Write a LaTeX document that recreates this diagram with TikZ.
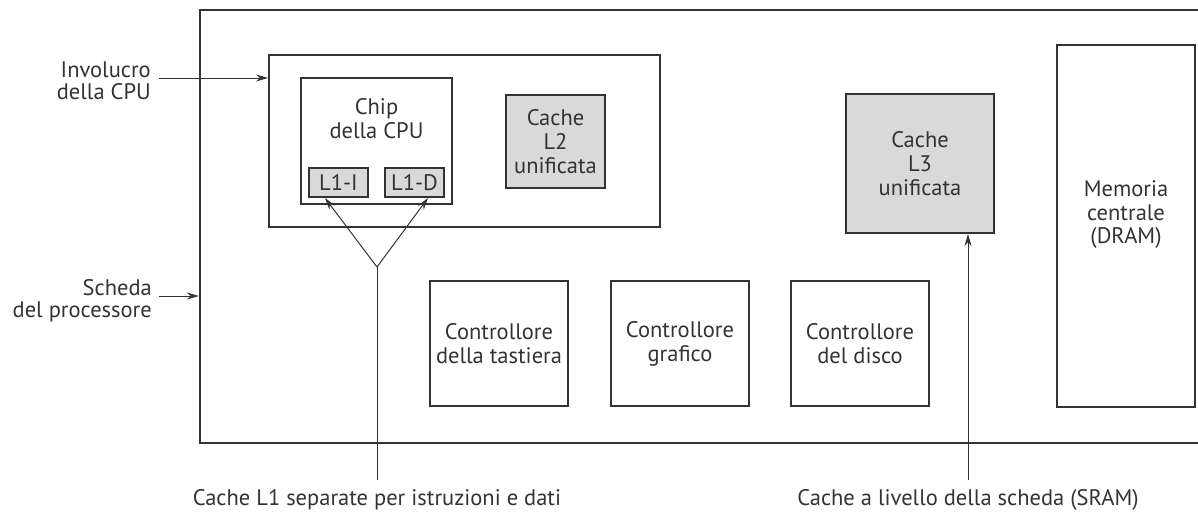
\documentclass[tikz,border=0pt]{standalone}
\usepackage{fontspec}
\setmainfont{PT Sans}
\usetikzlibrary{arrows.meta}
\definecolor{ink}{HTML}{333333}
\definecolor{cachegray}{HTML}{D9D9D9}
\begin{document}
\begin{tikzpicture}[x=1pt,y=-1pt,
  box/.style={draw=ink, line width=2pt, inner sep=0pt, align=center, text=ink,
              font=\fontsize{22.5}{23.8}\selectfont},
  cachebox/.style={box, fill=cachegray},
  lbl/.style={text=ink, inner sep=0pt, font=\fontsize{22.5}{22.5}\selectfont},
  pointer/.style={draw=ink, line width=1pt, -{Stealth[length=12pt,width=7pt]}},
  wire/.style={draw=ink, line width=1pt},
]
\useasboundingbox (0,0) rectangle (1198,512);

% processor board (runs off the right edge)
\node[box, line width=2.4pt, minimum width=1015pt, minimum height=433pt] (board) at (707.5,226.5) {};

% CPU package with chip and caches
\node[box, minimum width=391pt, minimum height=172pt] (pkg) at (464.5,141) {};
\node[box, minimum width=151pt, minimum height=126pt] (chip) at (376.5,141) {};
\node[lbl, align=center, font=\fontsize{22.5}{24}\selectfont] (chiptext) at (376.5,119) {Chip\\della CPU};
\node[cachebox, minimum width=59pt, minimum height=29pt] (L1I) at (338.5,182.5) {L1-I};
\node[cachebox, minimum width=59pt, minimum height=29pt] (L1D) at (414.5,182.5) {L1-D};
\node[cachebox, minimum width=99pt, minimum height=93pt] (L2) at (555.5,141.5) {Cache\\L2\\unificata};

% board-level cache and main memory
\node[cachebox, minimum width=148pt, minimum height=139pt] (L3) at (920,163.5) {Cache\\L3\\unificata};
\node[box, minimum width=138pt, minimum height=362pt] (mem) at (1126,226) {};
\node[lbl, align=center, font=\fontsize{22.5}{23.5}\selectfont] (memtext) at ([yshift=11pt]mem.center) {Memoria\\centrale\\(DRAM)};

% controllers
\node[box, minimum width=138pt, minimum height=125pt] (kbd) at (499,343.5) {Controllore\\della tastiera};
\node[box, minimum width=138pt, minimum height=125pt] (gfx) at (680,343.5) {Controllore\\grafico};
\node[box, minimum width=138pt, minimum height=125pt] (disk) at (860,343.5) {Controllore\\del disco};

% side labels
\node[lbl, align=right, anchor=east] (pkgtext) at (151,81) {Involucro\\della CPU};
\coordinate (pkgtail) at (159,78);
\draw[pointer] (pkgtail) -- (pkgtail -| pkg.west);

\node[lbl, align=right, anchor=east] (boardtext) at (152,300.5) {Scheda\\del processore};
\coordinate (boardtail) at (159,296);
\draw[pointer] (boardtail) -- (boardtail -| board.west);

% L1 pointers
\coordinate (fork) at (377,267);
\coordinate (l1end) at (377,480);
\draw[wire] (l1end) -- (fork);
\draw[pointer] (fork) -- ([xshift=-13.5pt]L1I.south);
\draw[pointer] (fork) -- ([xshift=13.5pt]L1D.south);
\node[lbl] (l1text) at (377,500) {Cache L1 separate per istruzioni e dati};

% L3 pointer
\coordinate (l3end) at (968,480);
\draw[pointer] (l3end) -- (l3end |- L3.south);
\node[lbl] (l3text) at (968,500) {Cache a livello della scheda (SRAM)};
\end{tikzpicture}
\end{document}
